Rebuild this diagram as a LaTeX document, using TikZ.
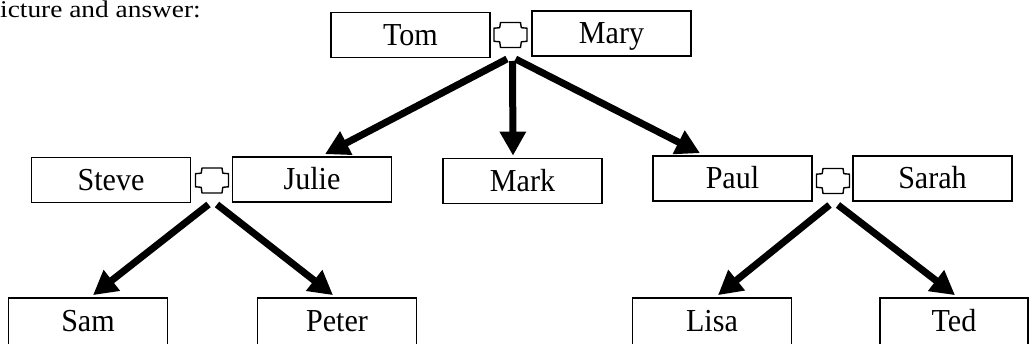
\documentclass[tikz,border=0pt]{standalone}
\usepackage{fontspec}
\setmainfont{Liberation Serif}
\usetikzlibrary{arrows.meta}
\begin{document}
\begin{tikzpicture}[x=1pt,y=-1pt,
  person/.style={draw, line width=1.7pt, minimum width=159pt, minimum height=45pt,
    inner sep=0pt, text height=21pt, text depth=0pt,
    font=\fontsize{32}{32}\selectfont},
  lowperson/.style={person, minimum height=47pt},
  arr/.style={line width=7pt, -{Triangle[length=24pt,width=25pt]}},
  knot/.pic={
    \draw[line width=1.4pt, line join=round]
      (-10,-12.5) -- (10,-12.5) -- (10.8,-7.3) -- (16.5,-6.8) -- (16.5,6.3) -- (10.8,6.8)
      -- (10,12.5) -- (-10,12.5) -- (-10.8,6.8) -- (-16.5,6.3) -- (-16.5,-6.8) -- (-10.8,-7.3) -- cycle;
    \coordinate (-l) at (-3.5,24);
    \coordinate (-r) at (5,24);
    \coordinate (-m) at (2,26);
  }
]
\useasboundingbox (0,0) rectangle (1030,344);
\clip (0,0) rectangle (1030,344);

\node[anchor=base west, inner sep=0pt, font=\fontsize{24}{24}\selectfont] (hdr) at (0,18)
  {\scalebox{1.14}[1]{icture and answer:}};

% generation 1
\node[person] (tom)  at (410.5,35)  {\scalebox{0.94}[1]{Tom}};
\node[person] (mary) at (611.5,33.5) {\scalebox{0.94}[1]{Mary}};
\pic (tm) at (510.5,35) {knot};

% generation 2
\node[person] (steve) at (111,180)   {\scalebox{0.94}[1]{Steve}};
\node[person] (julie) at (312,179.5) {\scalebox{0.94}[1]{Julie}};
\pic (sj) at (212,180.5) {knot};
\node[person] (mark)  at (522.5,181) {\scalebox{0.94}[1]{Mark}};
\node[person] (paul)  at (732.5,178.5) {\scalebox{0.94}[1]{Paul}};
\node[person] (sarah) at (932.5,178.5) {\scalebox{0.94}[1]{Sarah}};
\pic (ps) at (833,181) {knot};

% generation 3
\node[lowperson] (sam)   at (88,321.5)  {\scalebox{0.94}[1]{Sam}};
\node[lowperson] (peter) at (337,321.5) {\scalebox{0.94}[1]{Peter}};
\node[lowperson] (lisa)  at (712,321.5) {\scalebox{0.94}[1]{Lisa}};
\node[lowperson, minimum width=148pt] (ted) at (954,321.5) {\scalebox{0.94}[1]{Ted}};

% arrows
\draw[arr] (tm-l) -- ([xshift=13pt,yshift=2pt]julie.north);
\draw[arr] (tm-m) -- ([xshift=-9.5pt,yshift=2pt]mark.north);
\draw[arr] (tm-r) -- ([xshift=-32.5pt,yshift=2pt]paul.north);

\draw[arr] (sj-l) -- ([xshift=5pt,yshift=2pt]sam.north);
\draw[arr] (sj-r) -- ([xshift=-4pt,yshift=2pt]peter.north);

\draw[arr] (ps-l) -- ([xshift=6pt,yshift=2pt]lisa.north);
\draw[arr] (ps-r) -- ([xshift=1pt,yshift=2pt]ted.north);
\end{tikzpicture}
\end{document}
